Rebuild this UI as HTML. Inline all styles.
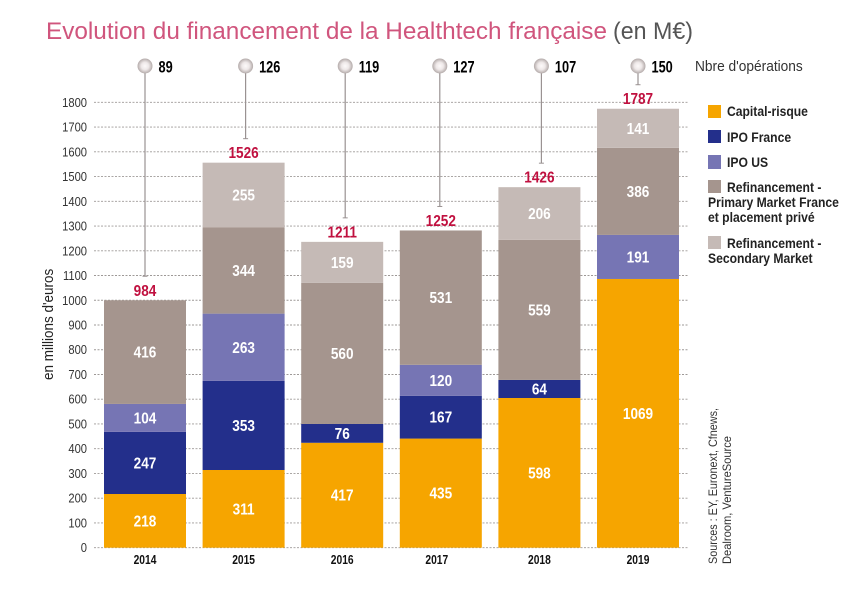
<!DOCTYPE html>
<html lang="fr">
<head>
<meta charset="utf-8">
<title>Evolution du financement de la Healthtech française</title>
<style>
html,body{margin:0;padding:0;background:#fff;}
svg{display:block;}
text{font-family:"Liberation Sans",sans-serif;}
.n{font-weight:700;}
.t{font-weight:400;}
</style>
</head>
<body>
<svg id="chart" xmlns="http://www.w3.org/2000/svg" width="844" height="598" viewBox="0 0 844 598">
  <defs>
    <radialGradient id="ball" cx="50%" cy="50%" r="50%">
      <stop offset="0%" stop-color="#fdfafa"/>
      <stop offset="50%" stop-color="#eee8e8"/>
      <stop offset="100%" stop-color="#b3aaa9"/>
    </radialGradient>
  </defs>
  <text x="46" y="39" font-size="24" fill="#d0557d" textLength="561" lengthAdjust="spacingAndGlyphs">Evolution du financement de la Healthtech française</text>
  <text x="613" y="39" font-size="24" fill="#555" textLength="80" lengthAdjust="spacingAndGlyphs">(en M€)</text>
  <text class="t" transform="translate(695,71) scale(0.915,1)" font-size="15" fill="#333">Nbre d'opérations</text>
  <text class="t" transform="translate(53,380) rotate(-90) scale(0.93,1)" font-size="14.5" fill="#222">en millions d'euros</text>
  <g id="grid"></g>
  <g id="bars"></g>
  <g id="stems"></g>
  <g>
    <g>
      <rect x="708" y="105" width="13" height="13" fill="#f6a500"/>
      <text class="n" transform="translate(727,116) scale(0.9,1)" font-size="13.5" fill="#222">Capital-risque</text>
    </g>
    <g>
      <rect x="708" y="130" width="13" height="13" fill="#232f8b"/>
      <text class="n" transform="translate(727,142) scale(0.9,1)" font-size="13.5" fill="#222">IPO France</text>
    </g>
    <g>
      <rect x="708" y="155" width="13" height="14" fill="#7675b4"/>
      <text class="n" transform="translate(727,167) scale(0.9,1)" font-size="13.5" fill="#222">IPO US</text>
    </g>
    <g>
      <rect x="708" y="180" width="13" height="13" fill="#a5958e"/>
      <text class="n" transform="translate(727,192) scale(0.9,1)" font-size="13.5" fill="#222">Refinancement -</text>
      <text class="n" transform="translate(708,207) scale(0.9,1)" font-size="13.5" fill="#222">Primary Market France</text>
      <text class="n" transform="translate(708,222) scale(0.9,1)" font-size="13.5" fill="#222">et placement privé</text>
    </g>
    <g>
      <rect x="708" y="236" width="13" height="13" fill="#c5bab6"/>
      <text class="n" transform="translate(727,248) scale(0.9,1)" font-size="13.5" fill="#222">Refinancement -</text>
      <text class="n" transform="translate(708,263) scale(0.9,1)" font-size="13.5" fill="#222">Secondary Market</text>
    </g>
  </g>
  <g>
    <text class="t" transform="translate(717,564) rotate(-90)" font-size="12" fill="#333" textLength="156" lengthAdjust="spacingAndGlyphs">Sources : EY, Euronext, Cfnews,</text>
    <text class="t" transform="translate(731,564) rotate(-90)" font-size="12" fill="#333" textLength="128" lengthAdjust="spacingAndGlyphs">Dealroom, VentureSource</text>
  </g>
</svg>
<script>
// Categories
const years = ['2014', '2015', '2016', '2017', '2018', '2019'];
const operations = [89, 126, 119, 127, 107, 150];
const yTicks = [0, 100, 200, 300, 400, 500, 600, 700, 800, 900, 1000, 1100, 1200, 1300, 1400, 1500, 1600, 1700, 1800];

// Segment heights as drawn, read against the y axis (M€)
const capitalRisque = [217, 314, 424, 441, 605, 1086];
const ipoFrance = [251, 360, 76, 173, 73, 0];
const ipoUS = [113, 272, 0, 125, 0, 178];
const refiPrimary = [419, 348, 570, 543, 566, 352];
const refiSecondary = [0, 262, 166, 0, 213, 158];

// Values printed on the chart
const capitalRisqueLabels = ['218', '311', '417', '435', '598', '1069'];
const ipoFranceLabels = ['247', '353', '76', '167', '64', ''];
const ipoUSLabels = ['104', '263', '', '120', '', '191'];
const refiPrimaryLabels = ['416', '344', '560', '531', '559', '386'];
const refiSecondaryLabels = ['', '255', '159', '', '206', '141'];
const totalLabels = ['984', '1526', '1211', '1252', '1426', '1787'];

const series = [
  { key: 'capital-risque', color: '#f6a500', values: capitalRisque, labels: capitalRisqueLabels },
  { key: 'ipo-france', color: '#232f8b', values: ipoFrance, labels: ipoFranceLabels },
  { key: 'ipo-us', color: '#7675b4', values: ipoUS, labels: ipoUSLabels },
  { key: 'refi-primary', color: '#a5958e', values: refiPrimary, labels: refiPrimaryLabels },
  { key: 'refi-secondary', color: '#c5bab6', values: refiSecondary, labels: refiSecondaryLabels }
];

const NS = 'http://www.w3.org/2000/svg';
const Y0 = 547.7, YTOP = 102.3, YMAX = 1800;
function yScale(v) { return Y0 - (v / YMAX) * (Y0 - YTOP); }
function xBand(i) { return 104 + i * 98.6; }
const BAR_W = 82;
function xCenter(i) { return xBand(i) + BAR_W / 2; }
function stemX(i) { return xCenter(i) + [0, 2, 3, -1, 2, 0][i]; }

function make(tag, parent, attrs, txt) {
  const el = document.createElementNS(NS, tag);
  Object.keys(attrs).forEach(function (k) { el.setAttribute(k, attrs[k]); });
  if (txt !== undefined) el.textContent = txt;
  parent.appendChild(el);
  return el;
}
// Condensed text: horizontally squeezed around its anchor point
function label(parent, x, y, sx, attrs, txt) {
  attrs.transform = 'translate(' + x + ',' + y + ') scale(' + sx + ',1)';
  return make('text', parent, attrs, txt);
}

const gridG = document.getElementById('grid');
yTicks.forEach(function (t) {
  const y = yScale(t);
  const line = make('line', gridG, { x1: 94, x2: 688, y1: y, y2: y, stroke: '#9e9997', 'stroke-width': 0.9, 'stroke-dasharray': '2 1.5' });
  
  
  const lab = label(gridG, 87, y + 4.5, 0.86, { 'text-anchor': 'end', 'font-size': 13, fill: '#333', class: 't' }, String(t));
  
  
});

const barsG = document.getElementById('bars');
const stemsG = document.getElementById('stems');
years.forEach(function (year, i) {
  let acc = 0;
  series.forEach(function (s) {
    const v = s.values[i];
    if (!v) return;
    const yTop = yScale(acc + v);
    const yBot = yScale(acc);
    const rect = make('rect', barsG, { x: xBand(i), y: yTop, width: BAR_W, height: yBot - yTop, fill: s.color });
    
    
    const txt = label(barsG, xCenter(i), (yTop + yBot) / 2 + 5.5, 0.85, { 'text-anchor': 'middle', 'font-size': 16, fill: '#fff', class: 'n' }, s.labels[i]);
    
    
    acc += v;
  });
  const top = yScale(acc);

  const total = label(barsG, xCenter(i), top - 4.5, 0.85, { 'text-anchor': 'middle', 'font-size': 16, fill: '#c0103f', class: 'n' }, totalLabels[i]);
  
  

  const yl = label(barsG, xCenter(i) - (i === 3 ? 4 : 0), 564, 0.82, { 'text-anchor': 'middle', 'font-size': 12.5, fill: '#111', class: 'n' }, year);
  
  

  const sx = stemX(i);
  const stem = make('line', stemsG, { x1: sx, x2: sx, y1: 70, y2: top - 24, stroke: '#9a9292', 'stroke-width': 1.2 });
  
  
  const cap = make('line', stemsG, { x1: sx - 2.5, x2: sx + 2.5, y1: top - 24, y2: top - 24, stroke: '#9a9292', 'stroke-width': 1 });
  
  
  const ball = make('circle', stemsG, { cx: sx, cy: 66, r: 7.5, fill: 'url(#ball)' });
  
  
  const cnt = label(stemsG, sx + 13.5, 72.5, 0.75, { 'font-size': 17, fill: '#000', class: 'n' }, String(operations[i]));
  
  
});
</script>
</body>
</html>
